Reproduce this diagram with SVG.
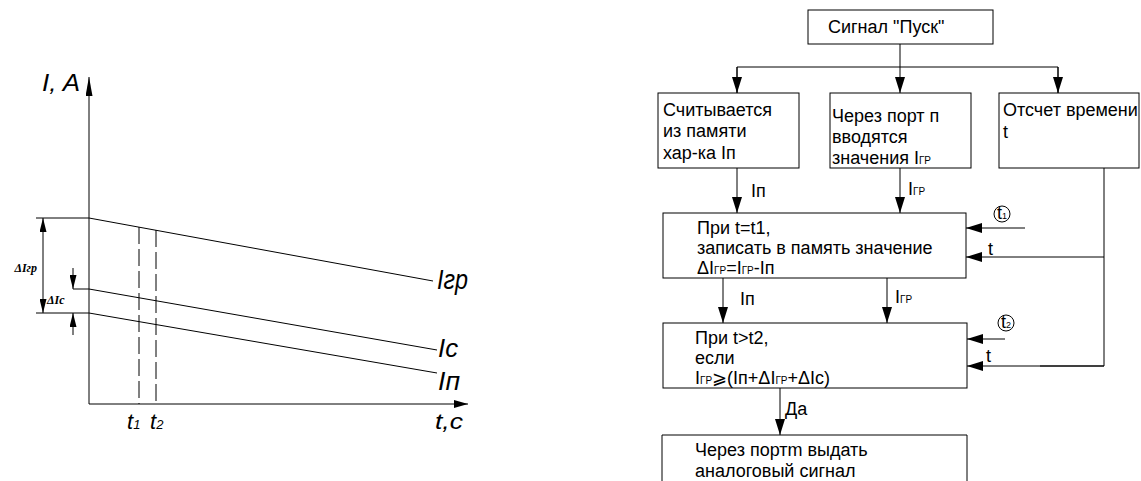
<svg xmlns="http://www.w3.org/2000/svg" width="1141" height="481" viewBox="0 0 1141 481">
<style>
.ln{stroke:#000;stroke-width:1;fill:none}
.bx{stroke:#000;stroke-width:1;fill:#fff}
.ft{font-family:"Liberation Sans",Arial,sans-serif;font-size:18px;fill:#000}
.sm{font-size:10px}
.gi{font-family:"Liberation Sans",Arial,sans-serif;font-style:italic;fill:#000}
.di{font-family:"Liberation Serif","Times New Roman",serif;font-style:italic;font-weight:bold;font-size:12px;fill:#000}
.dash{stroke:#000;stroke-width:1;stroke-dasharray:17 5;fill:none}
</style>
<defs>
<marker id="ah" markerUnits="userSpaceOnUse" markerWidth="16" markerHeight="10" refX="16" refY="5" orient="auto"><path d="M0,0 L16,5 L0,10 z" fill="#000"/></marker>
<marker id="axY" markerUnits="userSpaceOnUse" markerWidth="19" markerHeight="7" refX="19" refY="3.5" orient="auto"><path d="M0,0 L19,3.5 L0,7 z" fill="#000"/></marker>
<marker id="axX" markerUnits="userSpaceOnUse" markerWidth="14" markerHeight="8" refX="14" refY="4" orient="auto"><path d="M0,0 L14,4 L0,8 z" fill="#000"/></marker>
<marker id="dm" markerUnits="userSpaceOnUse" markerWidth="14" markerHeight="7" refX="14" refY="3.5" orient="auto-start-reverse"><path d="M0,0 L14,3.5 L0,7 z" fill="#000"/></marker>
</defs>

<g id="chart">
<line class="ln" x1="89" y1="404" x2="89" y2="77" marker-end="url(#axY)"/>
<line class="ln" x1="89" y1="404" x2="468" y2="404" marker-end="url(#axX)"/>
<text class="gi" x="42" y="91" font-size="24" textLength="38" lengthAdjust="spacingAndGlyphs">I,  A</text>
<line class="ln" x1="36" y1="218" x2="89" y2="218"/>
<line class="ln" x1="89" y1="218" x2="433" y2="281"/>
<line class="ln" x1="73" y1="289" x2="89" y2="289"/>
<line class="ln" x1="89" y1="289" x2="437" y2="350"/>
<line class="ln" x1="36" y1="313" x2="89" y2="313"/>
<line class="ln" x1="89" y1="313" x2="437" y2="373"/>
<line class="dash" x1="139" y1="227" x2="139" y2="404"/>
<line class="dash" x1="156" y1="230" x2="156" y2="404"/>
<line class="ln" x1="43" y1="218" x2="43" y2="313" marker-start="url(#dm)" marker-end="url(#dm)"/>
<line class="ln" x1="73" y1="268" x2="73" y2="289" marker-end="url(#dm)"/>
<line class="ln" x1="73" y1="335" x2="73" y2="313" marker-end="url(#dm)"/>
<text class="di" x="37" y="272" text-anchor="end">ΔIгр</text>
<text class="di" x="47" y="304">ΔIc</text>
<text class="gi" x="437" y="289" font-size="27" textLength="31" lengthAdjust="spacingAndGlyphs">Iгр</text>
<text class="gi" x="438" y="357" font-size="26" textLength="20" lengthAdjust="spacingAndGlyphs">Ic</text>
<text class="gi" x="438" y="390" font-size="26" textLength="22" lengthAdjust="spacingAndGlyphs">Iп</text>
<text class="gi" x="127" y="429" font-size="22">t<tspan font-size="13">1</tspan></text>
<text class="gi" x="150" y="429" font-size="22">t<tspan font-size="13">2</tspan></text>
<text class="gi" x="435" y="429" font-size="22" textLength="28" lengthAdjust="spacingAndGlyphs">t,c</text>
</g>

<g id="connectors">
<line class="ln" x1="900" y1="44" x2="900" y2="93" marker-end="url(#ah)"/>
<polyline class="ln" points="737,93 737,67 1058,67 1058,93"/>
<line class="ln" x1="737" y1="67" x2="737" y2="93" marker-end="url(#ah)"/>
<line class="ln" x1="1058" y1="67" x2="1058" y2="93" marker-end="url(#ah)"/>
<line class="ln" x1="737" y1="168" x2="737" y2="213" marker-end="url(#ah)"/>
<line class="ln" x1="900" y1="168" x2="900" y2="213" marker-end="url(#ah)"/>
<line class="ln" x1="723" y1="278" x2="723" y2="323" marker-end="url(#ah)"/>
<line class="ln" x1="887" y1="278" x2="887" y2="323" marker-end="url(#ah)"/>
<line class="ln" x1="780" y1="388" x2="780" y2="435" marker-end="url(#ah)"/>
<line class="ln" x1="1025" y1="228" x2="966" y2="228" marker-end="url(#ah)"/>
<line class="ln" x1="1104" y1="257" x2="966" y2="257" marker-end="url(#ah)"/>
<polyline class="ln" points="1104,168 1104,366 1040,366"/>
<line class="ln" x1="1104" y1="366" x2="967" y2="366" marker-end="url(#ah)"/>
<line class="ln" x1="1005" y1="339" x2="967" y2="339" marker-end="url(#ah)"/>
<text class="ft" x="751" y="197" font-size="16">Iп</text>
<text class="ft" x="908" y="195" font-size="16">I<tspan class="sm">ГР</tspan></text>
<text class="ft" x="740" y="305" font-size="16">Iп</text>
<text class="ft" x="895" y="303" font-size="16">I<tspan class="sm">ГР</tspan></text>
<text class="ft" x="785" y="415" font-size="16">Да</text>
<text class="ft" x="988" y="255" font-size="17">t</text>
<text class="ft" x="986" y="362" font-size="17">t</text>
<g id="t1mark"><circle class="ln" cx="1002" cy="214" r="8"/><text class="ft" x="997" y="219" font-size="14">t<tspan font-size="9">1</tspan></text></g>
<g id="t2mark"><circle class="ln" cx="1006" cy="323" r="8"/><text class="ft" x="1001" y="328" font-size="14">t<tspan font-size="9">2</tspan></text></g>
</g>

<g id="start"><rect class="bx" x="808" y="10" width="185" height="34"/><text class="ft" x="828" y="33">Сигнал "Пуск"</text></g>
<g id="read"><rect class="bx" x="658" y="93" width="141" height="75"/>
<text class="ft" x="663" y="116">Считывается</text><text class="ft" x="663" y="137">из памяти</text><text class="ft" x="663" y="159">хар-ка Iп</text></g>
<g id="port"><rect class="bx" x="830" y="93" width="141" height="75"/>
<text class="ft" x="832" y="122">Через порт п</text><text class="ft" x="832" y="143">вводятся</text><text class="ft" x="832" y="164">значения I<tspan class="sm">ГР</tspan></text></g>
<g id="timer"><rect class="bx" x="999" y="93" width="140" height="75"/>
<text class="ft" x="1003" y="116">Отсчет времени</text><text class="ft" x="1003" y="138">t</text></g>
<g id="store"><rect class="bx" x="663" y="213" width="303" height="65"/>
<text class="ft" x="697" y="234">При t=t1,</text><text class="ft" x="697" y="254">записать в память значение</text>
<text class="ft" x="697" y="274">ΔI<tspan class="sm">ГР</tspan>=I<tspan class="sm">ГР</tspan>-Iп</text></g>
<g id="check"><rect class="bx" x="663" y="323" width="304" height="65"/>
<text class="ft" x="695" y="344">При t&gt;t2,</text><text class="ft" x="695" y="364">если</text>
<text class="ft" x="695" y="384">I<tspan class="sm">ГР</tspan>⩾(Iп+ΔI<tspan class="sm">ГР</tspan>+ΔIc)</text></g>
<g id="output"><path class="ln" d="M662,482 V435 H967 V482"/>
<text class="ft" x="695" y="456">Через портm выдать</text><text class="ft" x="695" y="477">аналоговый сигнал</text></g>
</svg>
